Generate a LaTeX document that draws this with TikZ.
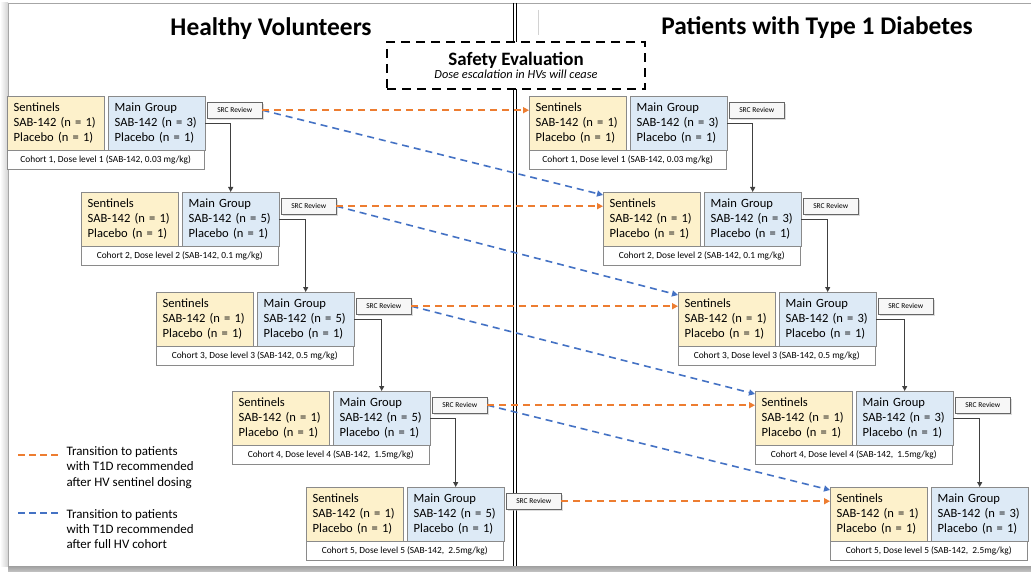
\documentclass[tikz,border=0pt]{standalone}
\usepackage{fontspec}
\setmainfont{Carlito}
\usetikzlibrary{arrows.meta,calc,shadows}
\definecolor{sentfill}{HTML}{FDF1CB}
\definecolor{mainfill}{HTML}{DDEAF6}
\definecolor{boxline}{HTML}{8A8A8A}
\definecolor{orangeA}{HTML}{ED7D31}
\definecolor{blueA}{HTML}{4472C4}
\newcommand{\mkcohort}[5]{%
  \node[sentbox] (#1s) at ({#2},{#3}) {Sentinels\\SAB-142 (n = 1)\\Placebo (n = 1)};
  \node[mainbox] (#1m) at ({#2+101},{#3}) {Main Group\\SAB-142 (n = #4)\\Placebo (n = 1)};
  \node[capbox] (#1c) at ({#2},{#3+54}) {#5};
}
\newcommand{\mksrc}[3]{\node[srcbox] (#1) at ({#2+200},{#3+6}) {SRC Review};}
\begin{document}
\begin{tikzpicture}[x=1bp,y=-1bp,
  sentbox/.style={draw=boxline, fill=sentfill, anchor=north west, minimum width=97bp, minimum height=54bp,
    inner sep=0pt, text width=84bp, align=left, font=\fontsize{12.6}{15}\selectfont},
  mainbox/.style={sentbox, fill=mainfill},
  capbox/.style={draw=boxline, fill=white, anchor=north west, minimum width=197bp, minimum height=19bp,
    inner sep=0pt, font=\fontsize{9.4}{10}\selectfont},
  srcbox/.style={draw=gray!80!black, fill=gray!6, anchor=north west, minimum width=55bp, minimum height=16bp,
    inner sep=0pt, font=\fontsize{7.5}{9}\selectfont,
    drop shadow={shadow xshift=2bp, shadow yshift=-2bp, fill=gray!55}},
  downarr/.style={draw=black!75, line width=0.9bp, -{Triangle[length=5bp,width=5bp]}},
  orangearr/.style={draw=orangeA, line width=1.6bp, dash pattern=on 7bp off 5bp, -{Triangle[length=6bp,width=6bp]}},
  bluearr/.style={draw=blueA, line width=1.6bp, dash pattern=on 7bp off 5bp, -{Triangle[length=6bp,width=6bp]}},
  legendtext/.style={anchor=west, align=left, font=\fontsize{13}{15.3}\selectfont},
  title/.style={font=\fontsize{25.5}{28}\bfseries\selectfont}
]
\useasboundingbox (0,0) rectangle (1031,572);
% frame and shadows
\fill[left color=white, right color=gray!35] (0,3) rectangle (8,566);
\fill[top color=gray!75, bottom color=gray!45] (8,566) rectangle (1031,572);
\draw[gray!70, line width=0.8bp] (8,566) -- (8,3) -- (1031,3);
\draw[black, line width=1bp] (513,3) -- (513,566);
\draw[black, line width=1bp] (516,3) -- (516,566);
\draw[gray!35, line width=0.8bp] (538,10) -- (538,35);

% titles
\node[title] (t1) at (271,29) {Healthy Volunteers};
\node[title] (t2) at (817,28) {Patients with Type 1 Diabetes};

% safety box
\node[draw=black, fill=white, line width=2.2bp, dash pattern=on 9bp off 6bp, minimum width=258bp, minimum height=47bp,
  align=center, inner sep=0pt] (safety) at (516,65.5)
  {{\fontsize{19}{21}\bfseries\selectfont Safety Evaluation}\\[1pt]{\fontsize{12.4}{14}\itshape\selectfont Dose escalation in HVs will cease}};

% cohorts - left
\mkcohort{La}{7}{96}{3}{Cohort 1, Dose level 1 (SAB-142, 0.03 mg/kg)}
\mkcohort{Lb}{81}{192}{5}{Cohort 2, Dose level 2 (SAB-142, 0.1 mg/kg)}
\mkcohort{Lc}{156}{292}{5}{Cohort 3, Dose level 3 (SAB-142, 0.5 mg/kg)}
\mkcohort{Ld}{232}{391}{5}{Cohort 4, Dose level 4 (SAB-142,\ \ 1.5mg/kg)}
\mkcohort{Le}{306}{487}{5}{Cohort 5, Dose level 5 (SAB-142,\ \ 2.5mg/kg)}
% cohorts - right
\mkcohort{Ra}{529}{96}{3}{Cohort 1, Dose level 1 (SAB-142, 0.03 mg/kg)}
\mkcohort{Rb}{603}{192}{3}{Cohort 2, Dose level 2 (SAB-142, 0.1 mg/kg)}
\mkcohort{Rc}{678}{292}{3}{Cohort 3, Dose level 3 (SAB-142, 0.5 mg/kg)}
\mkcohort{Rd}{755}{391}{3}{Cohort 4, Dose level 4 (SAB-142,\ \ 1.5mg/kg)}
\mkcohort{Re}{830}{487}{3}{Cohort 5, Dose level 5 (SAB-142,\ \ 2.5mg/kg)}

% escalation arrows
\draw[downarr] (Lam.east) -| (Lbm.north);
\draw[downarr] (Lbm.east) -| (Lcm.north);
\draw[downarr] (Lcm.east) -| (Ldm.north);
\draw[downarr] (Ldm.east) -| (Lem.north);
\draw[downarr] (Ram.east) -| (Rbm.north);
\draw[downarr] (Rbm.east) -| (Rcm.north);
\draw[downarr] (Rcm.east) -| (Rdm.north);
\draw[downarr] (Rdm.east) -| (Rem.north);

% SRC review boxes
\mksrc{Lsa}{7}{96}
\mksrc{Lsb}{81}{192}
\mksrc{Lsc}{156}{292}
\mksrc{Lsd}{232}{391}
\mksrc{Lse}{306}{487}
\mksrc{Rsa}{529}{96}
\mksrc{Rsb}{603}{192}
\mksrc{Rsc}{678}{292}
\mksrc{Rsd}{755}{391}

% transitions
\draw[bluearr] (Lsa.east) -- ($(Rbs.north west)+(0,3)$);
\draw[bluearr] (Lsb.east) -- ($(Rcs.north west)+(0,3)$);
\draw[bluearr] (Lsc.east) -- ($(Rds.north west)+(0,3)$);
\draw[bluearr] (Lsd.east) -- ($(Res.north west)+(0,3)$);
\draw[orangearr] (Lsa.east) -- (Ras.west |- Lsa.east);
\draw[orangearr] (Lsb.east) -- (Rbs.west |- Lsb.east);
\draw[orangearr] (Lsc.east) -- (Rcs.west |- Lsc.east);
\draw[orangearr] (Lsd.east) -- (Rds.west |- Lsd.east);
\draw[orangearr] (Lse.east) -- (Res.west |- Lse.east);

% legend
\coordinate (lo1) at (18,455);
\coordinate (lo2) at (58,455);
\coordinate (lb1) at (18,513);
\coordinate (lb2) at (58,513);
\draw[draw=orangeA, line width=1.6bp, dash pattern=on 7bp off 4bp] (lo1) -- (lo2);
\draw[draw=blueA, line width=1.6bp, dash pattern=on 7bp off 4bp] (lb1) -- (lb2);
\node[legendtext] (lgo) at (63,467.5) {Transition to patients\\with T1D recommended\\after HV sentinel dosing};
\node[legendtext] (lgb) at (63,529) {Transition to patients\\with T1D recommended\\after full HV cohort};
\end{tikzpicture}
\end{document}
